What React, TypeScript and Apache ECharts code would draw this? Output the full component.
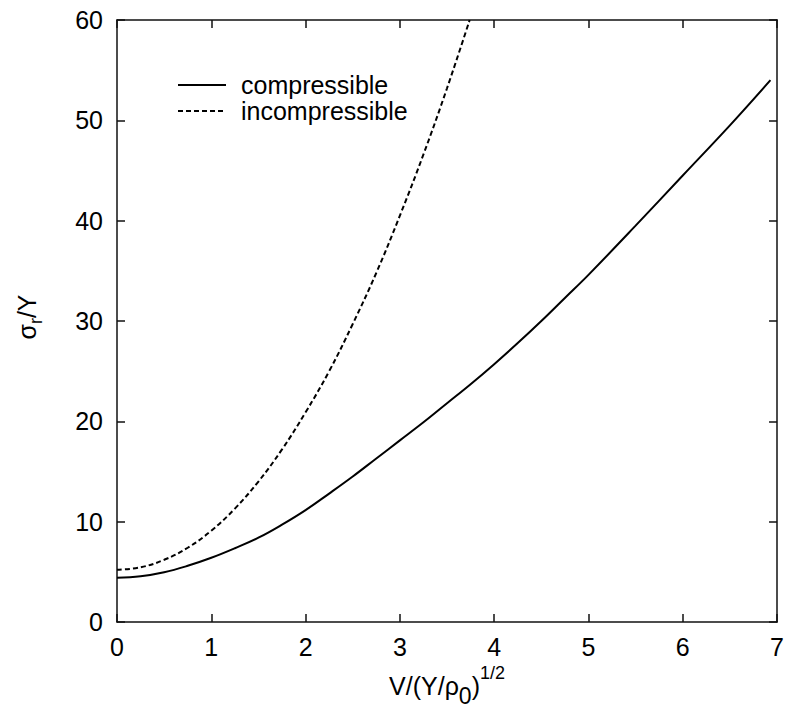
import React, { useEffect, useRef } from "react";
import * as echarts from "echarts";

const compX = [0, 0.25, 0.5, 0.75, 1, 1.25, 1.5, 1.75, 2, 2.25, 2.5, 2.75, 3, 3.25, 3.5, 3.75, 4, 4.25, 4.5, 4.75, 5, 5.5, 6, 6.5, 6.93];
const compY = [4.4, 4.55, 4.95, 5.6, 6.4, 7.35, 8.4, 9.7, 11.15, 12.8, 14.5, 16.3, 18.1, 19.9, 21.8, 23.7, 25.7, 27.8, 30.0, 32.3, 34.6, 39.5, 44.5, 49.5, 54.0];

const incompX = [0, 0.25, 0.5, 0.75, 1, 1.25, 1.5, 1.75, 2, 2.25, 2.5, 2.75, 3, 3.25, 3.5, 3.74];
const incompY = [5.2, 5.45, 6.2, 7.4, 9.1, 11.3, 14.0, 17.2, 20.9, 25.0, 29.7, 34.8, 40.5, 46.6, 53.2, 60.0];

const xTicks = [0, 1, 2, 3, 4, 5, 6, 7];
const yTicks = [0, 10, 20, 30, 40, 50, 60];

const seriesNames = ["compressible", "incompressible"];

const FONT = "'Liberation Sans', Arial, Helvetica, sans-serif";

export default function App() {
  const ref = useRef<HTMLDivElement>(null);
  useEffect(() => {
    document.body.style.margin = "0";
    if (!ref.current) return;
    const chart = echarts.init(ref.current, undefined, { renderer: "svg" });
    const axisLine = { show: true, onZero: false, lineStyle: { color: "#111", width: 1.5 } };
    const tick = { show: true, inside: true, length: 8, lineStyle: { color: "#111", width: 1.5 } };
    const labelStyle = { color: "#000", fontSize: 25, fontFamily: FONT };
    chart.setOption({
      animation: false,
      backgroundColor: "#fff",
      grid: { left: 117, right: 5, top: 20, bottom: 92, containLabel: false },
      legend: {
        orient: "vertical",
        left: 172,
        top: 67,
        itemWidth: 48,
        itemHeight: 14,
        itemGap: 0,
        selectedMode: false,
        data: seriesNames,
        itemStyle: { opacity: 0 },
        textStyle: { color: "#000", fontSize: 25, fontFamily: FONT, padding: [0, 0, 0, 10], lineHeight: 26 },
      },
      xAxis: [
        {
          type: "value",
          min: xTicks[0],
          max: xTicks[xTicks.length - 1],
          interval: 1,
          position: "bottom",
          axisLine,
          axisTick: tick,
          splitLine: { show: false },
          axisLabel: { ...labelStyle, margin: 12 },
          name: "V/(Y/ρ{sub|0}){sup|1/2}",
          nameLocation: "middle",
          nameGap: 30,
          nameTextStyle: {
            color: "#000",
            fontSize: 25,
            fontFamily: FONT,
            lineHeight: 44,
            rich: {
              sub: { fontSize: 23, fontFamily: FONT, color: "#000", lineHeight: 30, verticalAlign: "bottom" },
              sup: { fontSize: 18, fontFamily: FONT, color: "#000", lineHeight: 20, verticalAlign: "top" },
            },
          },
        },
        {
          type: "value",
          min: xTicks[0],
          max: xTicks[xTicks.length - 1],
          interval: 1,
          position: "top",
          axisLine,
          axisTick: tick,
          splitLine: { show: false },
          axisLabel: { show: false },
        },
      ],
      yAxis: [
        {
          type: "value",
          min: yTicks[0],
          max: yTicks[yTicks.length - 1],
          interval: 10,
          position: "left",
          axisLine,
          axisTick: tick,
          splitLine: { show: false },
          axisLabel: { ...labelStyle, margin: 14 },
          name: "σ{sub|r}/Y",
          nameLocation: "middle",
          nameGap: 72,
          nameRotate: 90,
          nameTextStyle: {
            color: "#000",
            fontSize: 25,
            fontFamily: FONT,
            lineHeight: 36,
            padding: [0, 0, 0, 8],
            rich: {
              sub: { fontSize: 18, fontFamily: FONT, color: "#000", lineHeight: 22, verticalAlign: "bottom" },
            },
          },
        },
        {
          type: "value",
          min: yTicks[0],
          max: yTicks[yTicks.length - 1],
          interval: 10,
          position: "right",
          axisLine,
          axisTick: tick,
          splitLine: { show: false },
          axisLabel: { show: false },
        },
      ],
      series: [
        {
          name: seriesNames[0],
          type: "line",
          data: compX.map((x, i) => [x, compY[i]]),
          smooth: 0.4,
          symbol: "none",
          clip: true,
          lineStyle: { color: "#000", width: 2, type: "solid" },
          itemStyle: { color: "#000" },
        },
        {
          name: seriesNames[1],
          type: "line",
          data: incompX.map((x, i) => [x, incompY[i]]),
          smooth: 0.4,
          symbol: "none",
          clip: true,
          lineStyle: { color: "#000", width: 2, type: [5, 3] },
          itemStyle: { color: "#000" },
        },
      ],
    });
    return () => chart.dispose();
  }, []);
  return <div ref={ref} style={{ width: 787, height: 714 }} />;
}
